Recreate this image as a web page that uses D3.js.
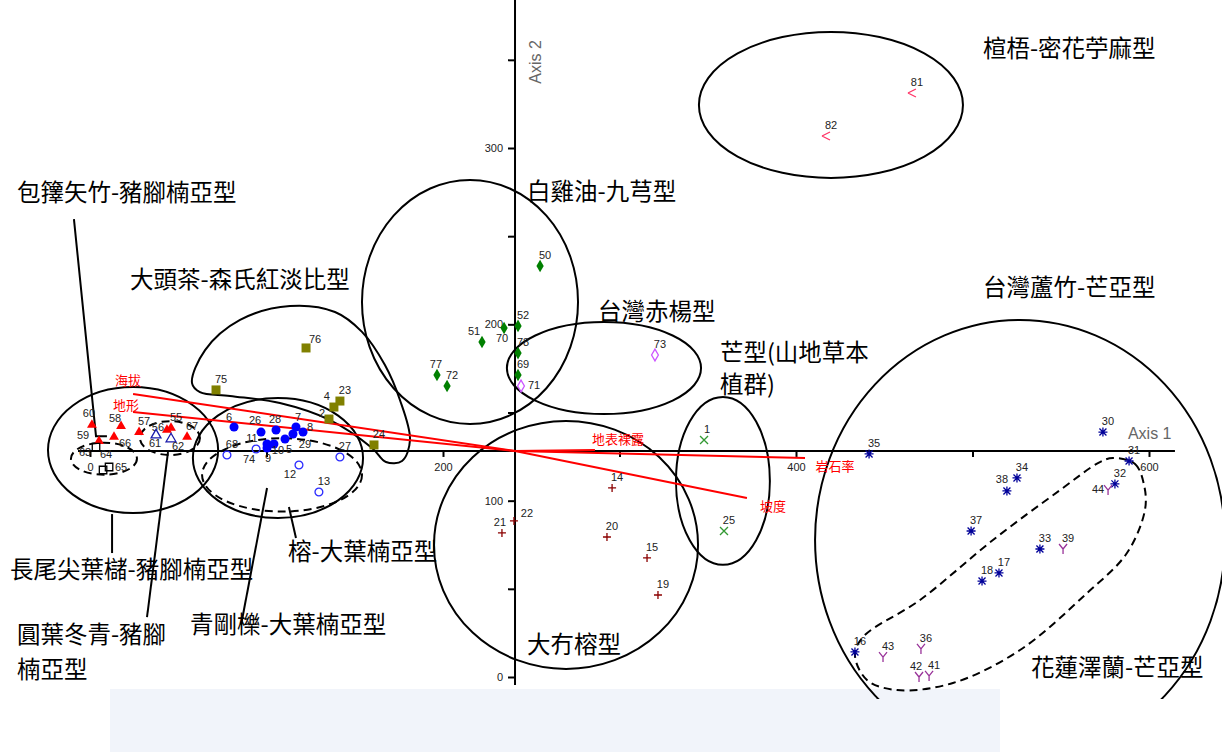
<!DOCTYPE html>
<html>
<head>
<meta charset="utf-8">
<script src="https://cdn.jsdelivr.net/npm/d3@7"></script>
<style>
body { margin: 0; background: #fff; }
svg { display: block; }
.pt-label { font-family: "Liberation Sans", Arial, sans-serif; font-size: 11px; fill: #222; }
.type-name { font-family: "Noto Sans CJK TC", sans-serif; font-size: 23.5px; fill: #000; }
.env-name { font-family: "Noto Sans CJK TC", sans-serif; font-size: 13px; fill: #ff0000; }
.tick text { font-family: "Liberation Sans", Arial, sans-serif; font-size: 11px; fill: #222; }
.axis-title { font-family: "Liberation Sans", Arial, sans-serif; font-size: 16px; fill: #666; }
</style>
</head>
<body>
<svg id="chart" width="1222" height="752"></svg>
<script>
// plot scores by vegetation type: [plot no, axis 1, axis 2]
const zhujiaoRed = [[60,1.1,142.9],[58,17.6,142.3],[59,5.1,133.8],[66,13.6,136.1],[57,27.8,138.9],[56,43.6,140.1],[55,45.9,141.2],[67,55.0,136.1]]
const yuanyeOpen = [[61,37.4,137.2],[62,45.9,135.0]]
const changweiSq = [[63,3.4,130.4],[64,7.4,117.4],[65,10.8,119.1]]
const rongDot = [[6,81.6,141.8],[26,96.9,138.9],[28,105.4,140.1],[7,116.7,141.8],[8,120.7,138.9],[29,115.0,137.8],[5,110.5,135.0],[10,104.2,132.1],[11,100.3,132.1],[9,100.3,129.9]]
const qinggangRing = [[68,77.6,125.9],[74,94.1,129.3],[27,141.6,124.8],[12,118.4,120.2],[13,129.7,104.9]]
const datouchaSq = [[76,122.4,186.6],[75,71.4,162.8],[23,141.6,156.5],[4,138.2,153.1],[2,135.4,146.3],[24,160.9,131.6]]
const baijiyouDia = [[50,255.0,233.1],[52,242.5,199.1],[70,234.6,197.9],[51,222.1,190.0],[78,242.5,183.7],[69,242.5,171.3],[77,196.6,171.3],[72,202.3,165.0]]
const chiyangDia = [[71,244.2,165.0],[73,320.1,182.6]]
const dakouPlus = [[14,295.8,107.2],[22,240.2,88.5],[21,233.4,81.7],[20,292.9,79.4],[15,315.6,67.5],[19,321.8,46.5]]
const mangCross = [[1,347.9,134.4],[25,359.2,82.8]]
const luzhuStar = [[35,441.4,126.5],[30,573.9,138.9],[31,588.7,122.5],[32,580.7,109.5],[34,525.2,112.9],[38,519.5,105.5],[37,499.2,82.8],[33,538.2,72.6],[17,515.0,59.0],[18,505.4,54.4],[16,433.4,14.2]]
const zelanY = [[44,576.8,106.0],[39,551.3,72.6],[43,449.3,11.3],[36,470.8,15.9],[42,469.7,0.0],[41,475.4,0.6]]
const xuanwuLt = [[81,465.7,331.2],[82,417.0,306.8]]

// environmental vectors (joint plot), drawn from the centroid
const centroid = [240.8, 128.2]
const envNames = ['海拔', '地形', '坡度', '岩石率', '地表裸露']
const envAx1 = [24.4, 24.4, 372.2, 405.1, 286.1]
const envAx2 = [160.5, 150.3, 101.5, 124.2, 128.8]

const xTicks = [0, 100, 200, 300, 400, 500, 600]
const yTicks = [0, 50, 100, 150, 200, 250, 300, 350]

// vegetation type names
const typeNames = ['包籜矢竹-豬腳楠亞型', '大頭茶-森氏紅淡比型', '長尾尖葉櫧-豬腳楠亞型', '圓葉冬青-豬腳', '楠亞型',
    '青剛櫟-大葉楠亞型', '榕-大葉楠亞型', '大冇榕型', '芒型(山地草本', '植群)', '台灣赤楊型', '白雞油-九芎型',
    '楦梧-密花苧麻型', '台灣蘆竹-芒亞型', '花蓮澤蘭-芒亞型']

// ---------------- layout ----------------
var svg = d3.select('#chart')

var x = d3.scaleLinear().domain([0, 600]).range([90, 1149])
var y = d3.scaleLinear().domain([0, 300]).range([677, 148])
var kx = x(1) - x(0), ky = y(0) - y(1)

// where the type names sit (axis units, left edge / middle)
var typeAt = [[-41.4,274.5],[22.7,225.1],[-45.3,60.7],[-41.4,23.8],[-41.4,4.0],[56.7,29.5],[112.2,70.9],
    [247.6,18.1],[356.9,183.7],[356.9,165.6],[287.8,207.0],[247.6,275.0],[505.9,356.1],[505.9,220.6],[533.1,5.1]]

// hand drawn outlines round each group (axis units)
var solidOvals = [
    {cx: 419.8, cy: 324.4, rx: 74.8, ry: 41.4},
    {cx: 215.3, cy: 212.7, rx: 61.2, ry: 69.2},
    {cx: 291.2, cy: 175.2, rx: 55.0, ry: 26.1},
    {cx: 358.6, cy: 111.2, rx: 26.6, ry: 47.6},
    {cx: 269.7, cy: 74.9, rx: 74.8, ry: 70.3},
    {cx: 526.9, cy: 77.7, rx: 116.1, ry: 124.8},
    {cx: 24.4, cy: 128.7, rx: 48.2, ry: 35.7},
    {cx: 106.5, cy: 124.2, rx: 48.2, ry: 34.0}
]
var dashedOvals = [
    {cx: 7.9, cy: 123.8, rx: 18.7, ry: 9.1},
    {cx: 45.3, cy: 135.5, rx: 17.0, ry: 9.6},
    {cx: 108.8, cy: 114.6, rx: 45.3, ry: 20.8}
]
var datouchaLoop = [[57.8,166.7],[65.2,185.4],[85.0,202.5],[113.3,210.4],[138.8,207.0],[154.1,195.7],[167.1,176.9],
    [175.6,157.1],[181.3,134.4],[176.8,122.5],[167.7,121.9],[159.8,129.9],[136.0,145.7],[107.6,155.4],[79.3,159.4],[62.3,161.6]]
var zelanLoop = [[579.6,124.2],[592.1,120.8],[597.2,108.9],[597.7,94.7],[587.5,70.3],[564.9,47.6],[526.9,15.3],[488.9,-3.4],
    [457.2,-7.4],[440.2,-1.7],[433.4,12.5],[438.0,22.7],[470.3,43.7],[511.6,77.7],[549.6,106.0],[572.2,121.9]]
var leaders = [
    [[-9.1,259.7],[3.4,136.6],[9.6,136.6]],
    [[12.5,92.4],[12.5,70.3]],
    [[44.2,127.6],[32.3,34.0]],
    [[100.3,107.2],[85.6,29.5]],
    [[112.7,96.4],[116.7,78.8]]
]

// the figure is cut off a little above the page foot
var defs = svg.append('defs')
defs.append('clipPath').attr('id', 'figure-clip')
    .append('rect').attr('x', 0).attr('y', 0).attr('width', 1222).attr('height', 699)

// faint watermark at the foot of the page
svg.append('rect')
    .attr('x', 110).attr('y', 689).attr('width', 890).attr('height', 63)
    .style('fill', '#f1f4fa')

var fig = svg.append('g').attr('clip-path', 'url(#figure-clip)')

// ---------------- axes ----------------
var xAxisGenerator = d3.axisBottom(x)
    .tickValues(xTicks)
    .tickSize(6)
    .tickPadding(6)
    .tickFormat(d => d % 200 === 0 ? d : '')

var xAxis = fig.append('g')
    .attr('transform', 'translate(0,' + y(centroid[1]) + ')')
    .call(xAxisGenerator)
xAxis.select('.domain').remove()

var yAxisGenerator = d3.axisLeft(y)
    .tickValues(yTicks)
    .tickSize(7)
    .tickPadding(5)
    .tickFormat(d => d % 100 === 0 ? d : '')

var yAxis = fig.append('g')
    .attr('transform', 'translate(' + x(centroid[0]) + ',0)')
    .call(yAxisGenerator)
yAxis.select('.domain').remove()

fig.selectAll('.tick line').style('stroke', '#000').style('stroke-width', 2)

fig.append('line')
    .attr('x1', x(-6.8)).attr('x2', x(614.7))
    .attr('y1', y(centroid[1])).attr('y2', y(centroid[1]))
    .style('stroke', '#000').style('stroke-width', 2)

fig.append('line')
    .attr('x1', x(centroid[0])).attr('x2', x(centroid[0]))
    .attr('y1', y(-4.5)).attr('y2', y(384))
    .style('stroke', '#000').style('stroke-width', 2)

fig.append('text').classed('axis-title', true)
    .attr('x', x(614.7) - 47).attr('y', y(centroid[1]) - 12)
    .text('Axis 1')

fig.append('text').classed('axis-title', true)
    .attr('transform', 'translate(' + (x(centroid[0]) + 26) + ',' + 62 + ') rotate(-90)')
    .attr('text-anchor', 'middle')
    .text('Axis 2')

// ---------------- outlines ----------------
var outlines = fig.append('g').style('fill', 'none').style('stroke', '#000').style('stroke-width', 2)

outlines.selectAll('.solid-oval')
    .data(solidOvals)
    .enter()
    .append('ellipse')
    .attr('cx', d => x(d.cx)).attr('cy', d => y(d.cy))
    .attr('rx', d => d.rx * kx).attr('ry', d => d.ry * ky)

outlines.selectAll('.dashed-oval')
    .data(dashedOvals)
    .enter()
    .append('ellipse')
    .attr('cx', d => x(d.cx)).attr('cy', d => y(d.cy))
    .attr('rx', d => d.rx * kx).attr('ry', d => d.ry * ky)
    .style('stroke-dasharray', '8,5')

var loopLine = d3.line()
    .x(d => x(d[0])).y(d => y(d[1]))
    .curve(d3.curveCatmullRomClosed.alpha(0.5))

outlines.append('path').attr('d', loopLine(datouchaLoop))
outlines.append('path').attr('d', loopLine(zelanLoop)).style('stroke-dasharray', '8,5')

var straight = d3.line().x(d => x(d[0])).y(d => y(d[1]))
outlines.selectAll('.leader')
    .data(leaders)
    .enter()
    .append('path')
    .attr('d', d => straight(d))

// type names
fig.selectAll('.type-name')
    .data(typeNames)
    .enter()
    .append('text')
    .classed('type-name', true)
    .attr('x', (d, i) => x(typeAt[i][0]))
    .attr('y', (d, i) => y(typeAt[i][1]))
    .attr('dy', '0.35em')
    .text(d => d)

// ---------------- environmental vectors ----------------
var envShift = [[-5,-14],[-7,-7],[26,8],[30,8],[23,-10]]
var env = fig.append('g')
envNames.forEach(function(name, i) {
    env.append('line')
        .attr('x1', x(centroid[0])).attr('y1', y(centroid[1]))
        .attr('x2', x(envAx1[i])).attr('y2', y(envAx2[i]))
        .style('stroke', '#ff0000').style('stroke-width', 2)
    env.append('text').classed('env-name', true)
        .attr('x', x(envAx1[i]) + envShift[i][0])
        .attr('y', y(envAx2[i]) + envShift[i][1])
        .attr('text-anchor', 'middle').attr('dy', '0.35em')
        .text(name)
})

// ---------------- plots ----------------
function lines(segs) {
    return segs.map(s => 'M' + s[0] + ',' + s[1] + 'L' + s[2] + ',' + s[3]).join('')
}
var markers = [
    {data: zhujiaoRed, d: d3.symbol(d3.symbolTriangle, 42)(), fill: '#ff0000', stroke: 'none'},
    {data: yuanyeOpen, d: d3.symbol(d3.symbolTriangle, 42)(), fill: 'none', stroke: '#1a1aaa'},
    {data: changweiSq, d: d3.symbol(d3.symbolSquare, 56)(), fill: 'none', stroke: '#000'},
    {data: rongDot, d: d3.symbol(d3.symbolCircle, 64)(), fill: '#0000ff', stroke: 'none'},
    {data: qinggangRing, d: d3.symbol(d3.symbolCircle, 48)(), fill: 'none', stroke: '#2a2aff'},
    {data: datouchaSq, d: d3.symbol(d3.symbolSquare, 81)(), fill: '#808000', stroke: 'none'},
    {data: baijiyouDia, d: d3.symbol(d3.symbolDiamond, 46)(), fill: '#008000', stroke: 'none'},
    {data: chiyangDia, d: d3.symbol(d3.symbolDiamond, 40)(), fill: 'none', stroke: '#cc55ff'},
    {data: dakouPlus, d: lines([[-4,0,4,0],[0,-4,0,4]]), fill: 'none', stroke: '#8b0000'},
    {data: mangCross, d: lines([[-4,-4,4,4],[-4,4,4,-4]]), fill: 'none', stroke: '#339933'},
    {data: luzhuStar, d: lines([[-4.5,0,4.5,0],[0,-4.5,0,4.5],[-3.5,-3.5,3.5,3.5],[-3.5,3.5,3.5,-3.5]]), fill: 'none', stroke: '#000099'},
    {data: zelanY, d: lines([[-4,-5,0,0],[4,-5,0,0],[0,0,0,5]]), fill: 'none', stroke: '#993399'},
    {data: xuanwuLt, d: lines([[4,-4,-4,0],[-4,0,4,4]]), fill: 'none', stroke: '#ff3366'}
]

var labelShift = {59:[-16,-6], 66:[11,6], 56:[-9,-3], 58:[-6,-8], 60:[-3,-12], 61:[-1,8], 62:[7,7], 63:[-11,5],
    64:[3,-16], 65:[12,0], 6:[-5,-10], 26:[-6,-12], 28:[-1,-11], 7:[2,-10], 8:[7,-5], 29:[12,10], 11:[-15,-6],
    10:[4,6], 5:[4,10], 9:[1,10], 74:[-7,10], 12:[-9,9], 76:[9,-9], 2:[-7,-6], 4:[-7,-11], 51:[-8,-11],
    70:[-2,10], 71:[13,-1], 22:[13,-8], 21:[-2,-11], 44:[-10,-1], 38:[-5,-12], 42:[-3,-11], 77:[-1,-11], 1:[3,-11]}

var data_layer = fig.append('g').classed('data-layer', true)

markers.forEach(function(m) {
    var g = data_layer.append('g')
    g.selectAll('path')
        .data(m.data)
        .enter()
        .append('path')
        .attr('d', m.d)
        .attr('transform', d => 'translate(' + x(d[1]) + ',' + y(d[2]) + ')')
        .style('fill', m.fill)
        .style('stroke', m.stroke)
        .style('stroke-width', 1.3)

    g.selectAll('text')
        .data(m.data)
        .enter()
        .append('text')
        .classed('pt-label', true)
        .attr('x', d => x(d[1]) + (labelShift[d[0]] || [5, -11])[0])
        .attr('y', d => y(d[2]) + (labelShift[d[0]] || [5, -11])[1])
        .attr('text-anchor', 'middle')
        .attr('dy', '0.35em')
        .text(d => d[0])
})
</script>
</body>
</html>
